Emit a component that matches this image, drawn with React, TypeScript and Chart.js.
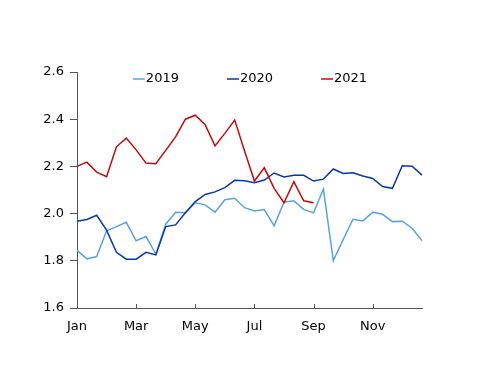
import React, { useEffect, useRef } from "react";
import { Chart, registerables } from "chart.js";

Chart.register(...registerables);

const months = ["Jan", "Feb", "Mar", "Apr", "May", "Jun", "Jul", "Aug", "Sep", "Oct", "Nov", "Dec"];
const periods = ["1", "11", "21"];
const categories = months.flatMap((m) => periods.map((d) => `${m} ${d}`));
const tickLabels = ["Jan", "Mar", "May", "Jul", "Sep", "Nov"];

const series2019 = [
  1.844, 1.808, 1.818, 1.927, 1.945, 1.963, 1.885, 1.903, 1.828, 1.955, 2.006, 2.004,
  2.046, 2.037, 2.006, 2.059, 2.065, 2.025, 2.011, 2.017, 1.948, 2.048, 2.054, 2.018,
  2.003, 2.104, 1.801, 1.89, 1.976, 1.969, 2.006, 1.997, 1.966, 1.968, 1.938, 1.885,
];
const series2020 = [
  1.968, 1.975, 1.993, 1.93, 1.836, 1.807, 1.807, 1.836, 1.825, 1.945, 1.952, 2.004,
  2.051, 2.081, 2.092, 2.11, 2.141, 2.139, 2.131, 2.142, 2.172, 2.155, 2.162, 2.162,
  2.138, 2.146, 2.189, 2.17, 2.173, 2.159, 2.149, 2.115, 2.107, 2.203, 2.201, 2.163,
];
const series2021 = [
  2.2, 2.218, 2.176, 2.156, 2.283, 2.32, 2.27, 2.214, 2.211, 2.268, 2.325, 2.4,
  2.417, 2.377, 2.287, 2.34, 2.396, 2.265, 2.138, 2.194, 2.107, 2.046, 2.135, 2.054,
  2.046, null, null, null, null, null, null, null, null, null, null, null,
];
const seriesNames = ["2019", "2020", "2021"];
const seriesColors = ["#5AA3E2", "#0A38A6", "#C40A0A"];
const yMin = 1.6;
const yMax = 2.6;
const yStep = 0.2;

const FONT = '"DejaVu Sans", Verdana, sans-serif';

const legendPlugin = {
  id: "customLegend",
  afterDraw(chart: any) {
    const ctx = chart.ctx;
    ctx.save();
    ctx.font = `13px ${FONT}`;
    const lineLen = 12;
    const textGap = 1;
    const itemGap = 48;
    const items = chart.data.datasets.map((d: any) => ({
      label: d.label,
      color: d.borderColor,
      w: lineLen + textGap + ctx.measureText(d.label).width,
    }));
    const total = items.reduce((s: number, it: any) => s + it.w, 0) + itemGap * (items.length - 1);
    let x = chart.width / 2 - total / 2;
    const y = 79;
    for (const it of items) {
      ctx.strokeStyle = it.color;
      ctx.lineWidth = 1.5;
      ctx.beginPath();
      ctx.moveTo(x, y);
      ctx.lineTo(x + lineLen, y);
      ctx.stroke();
      ctx.fillStyle = "#000";
      ctx.textBaseline = "middle";
      ctx.textAlign = "left";
      ctx.fillText(it.label, x + lineLen + textGap, y);
      x += it.w + itemGap;
    }
    ctx.restore();
  },
};

const xTickPlugin = {
  id: "xInnerTicks",
  afterDraw(chart: any) {
    const ctx = chart.ctx;
    const xs = chart.scales.x;
    const bottom = chart.chartArea.bottom;
    ctx.save();
    ctx.strokeStyle = "#555";
    ctx.lineWidth = 1;
    for (let i = 0; i < categories.length; i += 6) {
      const px = Math.round(xs.getPixelForValue(i)) + 0.5;
      ctx.beginPath();
      ctx.moveTo(px, bottom);
      ctx.lineTo(px, bottom - 4);
      ctx.stroke();
    }
    ctx.restore();
  },
};

export default function App() {
  const ref = useRef<HTMLCanvasElement | null>(null);
  useEffect(() => {
    if (!ref.current) return;
    const data = [series2019, series2020, series2021];
    const chart = new Chart(ref.current, {
      type: "line",
      data: {
        labels: categories,
        datasets: data.map((vals, i) => ({
          label: seriesNames[i],
          data: vals,
          borderColor: seriesColors[i],
          backgroundColor: seriesColors[i],
          borderWidth: 1.5,
          pointRadius: 0,
          tension: 0,
          spanGaps: false,
          order: 2 - i,
        })),
      },
      options: {
        responsive: false,
        animation: false,
        layout: { padding: { top: 72, right: 78, left: 0, bottom: 0 } },
        plugins: { legend: { display: false }, tooltip: { enabled: false } },
        scales: {
          x: {
            type: "category",
            offset: false,
            grid: { display: true, drawOnChartArea: false, drawTicks: false, color: "#555" },
            border: { display: true, color: "#555", width: 1 },
            ticks: {
              autoSkip: false,
              maxRotation: 0,
              minRotation: 0,
              padding: 11,
              color: "#000",
              font: { family: FONT, size: 13 },
              callback: (_v: any, i: number) => (i % 6 === 0 ? tickLabels[i / 6] : ""),
            },
            afterFit: (s: any) => {
              s.height = 78;
            },
          },
          y: {
            min: yMin,
            max: yMax,
            grid: { display: true, drawOnChartArea: false, drawTicks: true, tickLength: 7, color: "#555" },
            border: { display: true, color: "#555", width: 1 },
            ticks: {
              stepSize: yStep,
              padding: 6,
              color: "#000",
              font: { family: FONT, size: 13 },
              callback: (v: any) => Number(v).toFixed(1),
            },
            afterFit: (s: any) => {
              s.width = 77;
            },
          },
        },
      },
      plugins: [legendPlugin, xTickPlugin],
    });
    return () => chart.destroy();
  }, []);
  return (
    <div style={{ position: "fixed", left: 0, top: 0, width: 500, height: 386, background: "#fff" }}>
      <canvas ref={ref} width={500} height={386} />
    </div>
  );
}
